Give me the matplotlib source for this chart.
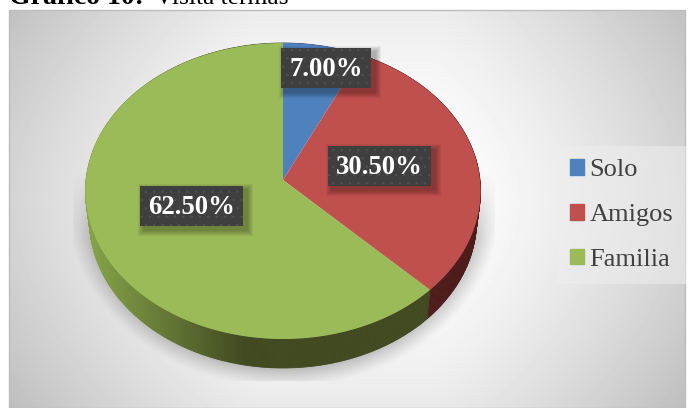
import numpy as np
import matplotlib
matplotlib.use("Agg")
import matplotlib.pyplot as plt
from matplotlib.patches import Rectangle, Patch

categories = ["Solo", "Amigos", "Familia"]
values = [7.0, 30.5, 62.5]
labels = ["7.00%", "30.50%", "62.50%"]
colors = ["#4f81bd", "#c0504d", "#9bbb59"]
wall_dark = ["#2a4468", "#4f1c1c", "#40491f"]

plt.rcParams["font.family"] = ["Liberation Serif", "DejaVu Serif"]
plt.rcParams["hatch.linewidth"] = 0.5

fig = plt.figure(figsize=(6.9, 4.08), dpi=100)
ax = fig.add_axes([0, 0, 1, 1])


def project(theta, drop=0.0, shrink=1.0):
    # theta clockwise from 12 o'clock, small perspective on the disc
    u = np.sin(theta)
    v = np.cos(theta)
    d = 1 + 0.0743 * v
    return 283 + 197 * shrink * u / d, 180 - 147.2 * v / d + drop


# background
yy, xx = np.mgrid[10:408, 9:686]
dx = np.abs(xx - 347) / 338
dy = np.abs(yy - 200) / 200
shade = 1 - 0.17 * np.clip((dx - 0.25) / 0.75, 0, 1) ** 1.3 - 0.08 * dy ** 1.7
ax.imshow(shade, extent=(9, 686, 408, 10), cmap="gray", vmin=0, vmax=1, zorder=0, aspect="auto")
ax.add_patch(Rectangle((9, 10), 676, 398, fill=False, ec="#bdbdbd", lw=1, zorder=1))

# soft shadow under the pie, cut off by a box like in the original
yy, xx = np.mgrid[150:381, 73:495]
q = np.sqrt(((xx - 283) / 205) ** 2 + ((yy - 205) / 172) ** 2)
a = np.clip((1.06 - q) / 0.12, 0, 1) ** 1.2 * 0.38 * np.clip((yy - 170) / 70, 0, 1)
rgba = np.zeros(q.shape + (4,))
rgba[..., :3] = 0.35
rgba[..., 3] = a
ax.imshow(rgba, extent=(73, 495, 381, 150), zorder=2, aspect="auto")

# walls, one thin quad per step so the green side can fade
edges = np.concatenate([[0], np.cumsum(values)]) / sum(values) * 2 * np.pi
for i in range(3):
    th = np.linspace(edges[i], edges[i + 1], int(200 * values[i] / 30) + 2)
    x1, y1 = project(th)
    x2, y2 = project(th, 29, 0.98)
    for j in range(len(th) - 1):
        c = np.array(matplotlib.colors.to_rgb(wall_dark[i]))
        if i == 2:
            f = np.clip((245 - x1[j]) / 155, 0, 1)
            c = c + (np.array(matplotlib.colors.to_rgb("#84a347")) - c) * f
        ax.fill([x1[j], x1[j + 1], x2[j + 1], x2[j]], [y1[j], y1[j + 1], y2[j + 1], y2[j]],
                color=c, lw=0.5, zorder=3)

# top face
for i in range(3):
    th = np.linspace(edges[i], edges[i + 1], 200)
    x, y = project(th)
    ax.fill(np.r_[283, x], np.r_[180, y], color=colors[i], lw=0, zorder=4)

# labels
label_pos = [(326, 68), (379.5, 166), (191.5, 206)]
for t, (lx, ly) in zip(labels, label_pos):
    w = 90 if len(t) == 5 else 103
    h = 40
    for k in range(6, 0, -1):
        ax.add_patch(Rectangle((lx - w / 2 + 4 - k, ly - h / 2 + 4 - k), w + 2 * k, h + 2 * k,
                               color="black", alpha=0.05, lw=0, zorder=5))
    ax.add_patch(Rectangle((lx - w / 2, ly - h / 2), w, h, fc="#3f3f3f", ec="#3f3f3f", lw=0, zorder=6))
    ax.add_patch(Rectangle((lx - w / 2, ly - h / 2), w, h, fc="none", ec="#505050", lw=0,
                           hatch="..", zorder=6))
    ax.text(lx, ly + 2, t, color="white", fontsize=19.3, fontweight="bold", ha="center", va="center", zorder=7)

# cropped caption on top
ax.text(9, 4, "Gráfico 10:", fontsize=20, fontweight="bold", color="black", va="baseline", zorder=7)
ax.text(155, 4, "Visita termas", fontsize=18.4, color="black", va="baseline", zorder=7)

handles = [Patch(color=c, label=n) for c, n in zip(colors, categories)]
leg = ax.legend(handles=handles, loc="upper left", bbox_to_anchor=(556.5 / 690, 1 - 146 / 408),
                bbox_transform=fig.transFigure, fontsize=19, frameon=True, fancybox=False,
                labelspacing=0.86, handlelength=0.53, handleheight=0.53, handletextpad=0.22,
                borderaxespad=0, borderpad=0.5, labelcolor="#404040")
leg.get_frame().set(facecolor="#eeeeee", alpha=0.55, edgecolor="none")
leg.set_zorder(8)

ax.set_xlim(0, 690)
ax.set_ylim(408, 0)
ax.axis("off")
fig.savefig("out.png", dpi=100)
